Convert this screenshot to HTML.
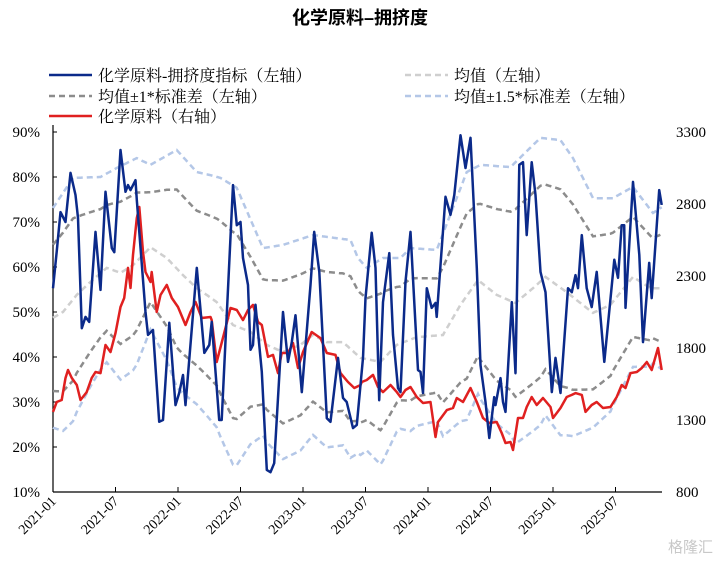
<!DOCTYPE html>
<html><head><meta charset="utf-8"><style>
body{margin:0;background:#fff;width:721px;height:561px;overflow:hidden}
svg text{font-family:"Liberation Serif","Noto Serif CJK SC",serif}
</style></head><body>
<svg id="chart" width="721" height="561" xmlns="http://www.w3.org/2000/svg">
<text x="360" y="24" text-anchor="middle" font-size="18" font-weight="bold" fill="#000" style="font-family:'Liberation Sans','Noto Sans CJK SC',sans-serif">化学原料–拥挤度</text>
<g font-size="16" fill="#000">
<g><line x1="49" y1="75" x2="92" y2="75" stroke="#0b2a8a" stroke-width="2.5"/><text x="98" y="81">化学原料-拥挤度指标（左轴）</text></g>
<g><line x1="405" y1="75" x2="448" y2="75" stroke="#cfcfcf" stroke-width="2.5" stroke-dasharray="6,4"/><text x="454" y="81">均值（左轴）</text></g>
<g><line x1="49" y1="96" x2="92" y2="96" stroke="#8c8c8c" stroke-width="2.5" stroke-dasharray="6,4"/><text x="98" y="102">均值±1*标准差（左轴）</text></g>
<g><line x1="405" y1="96" x2="448" y2="96" stroke="#b4c7e7" stroke-width="2.5" stroke-dasharray="6,4"/><text x="454" y="102">均值±1.5*标准差（左轴）</text></g>
<g><line x1="49" y1="116" x2="92" y2="116" stroke="#e02020" stroke-width="2.5"/><text x="98" y="122">化学原料（右轴）</text></g>
</g>
<g id="axes"></g>
<g id="plot"></g>
<text x="668" y="552" font-size="15" fill="#c8c8c8" style="font-family:'Liberation Sans','Noto Sans CJK SC',sans-serif">格隆汇</text>
</svg>
<script>
const leftTicks=[90,80,70,60,50,40,30,20,10];
const rightTicks=[3300,2800,2300,1800,1300,800];
const xTickLabels=["2021-01","2021-07","2022-01","2022-07","2023-01","2023-07","2024-01","2024-07","2025-01","2025-07"];
const blueT=[2021.00,2021.03,2021.06,2021.10,2021.14,2021.18,2021.20,2021.23,2021.26,2021.29,2021.34,2021.38,2021.42,2021.47,2021.49,2021.54,2021.58,2021.60,2021.62,2021.66,2021.67,2021.74,2021.76,2021.80,2021.85,2021.88,2021.93,2021.98,2022.01,2022.04,2022.06,2022.15,2022.21,2022.25,2022.27,2022.33,2022.35,2022.44,2022.47,2022.50,2022.52,2022.56,2022.58,2022.60,2022.62,2022.64,2022.67,2022.71,2022.74,2022.77,2022.84,2022.88,2022.91,2022.94,2022.99,2023.06,2023.09,2023.13,2023.19,2023.22,2023.28,2023.32,2023.35,2023.40,2023.43,2023.48,2023.50,2023.55,2023.58,2023.61,2023.64,2023.69,2023.72,2023.76,2023.78,2023.82,2023.86,2023.90,2023.92,2023.94,2023.96,2023.99,2024.03,2024.06,2024.07,2024.14,2024.18,2024.21,2024.26,2024.30,2024.34,2024.39,2024.42,2024.46,2024.49,2024.53,2024.54,2024.58,2024.60,2024.62,2024.67,2024.70,2024.73,2024.76,2024.79,2024.83,2024.86,2024.90,2024.94,2024.99,2025.02,2025.06,2025.12,2025.15,2025.18,2025.20,2025.23,2025.27,2025.31,2025.35,2025.41,2025.49,2025.52,2025.55,2025.57,2025.58,2025.64,2025.69,2025.72,2025.77,2025.79,2025.85,2025.87];
const blueV=[55.3,63.4,72.2,70,80.9,76,70.9,46.4,48.9,47.8,67.8,54.9,76.7,64.2,63.3,86,76.7,78.2,77.1,79.3,74.9,50,44.9,46,25.6,26,47.6,29.3,32,36,29.3,59.8,40.9,42.7,47.8,26,26,78.2,69.3,70,62,56,41.6,42.7,51.6,45.6,36.7,14.9,14.4,16.4,50,38.9,43.3,49.3,32.2,56,67.8,58.9,26.4,25.6,39.8,30.9,30,24.2,24.9,39.8,53.1,67.6,59.8,30.4,52.2,63.1,44.9,33.1,32.2,56.7,67.8,47.1,37.1,36.7,32,55.3,50.9,52,48.9,75.6,71.6,76,89.3,82,88.7,59.8,38.2,30,22,31.1,29.3,35.3,30,27.8,52.2,36.4,82.7,83.3,67.1,83.3,76,58.9,54.4,32.2,39.8,32,55.3,54.4,58.2,55.3,67.1,55.3,51.1,58.9,38.9,61.6,57.6,69.3,69.3,50.9,78.9,62.7,43.3,60.9,53.1,77.1,73.8];
const redT=[2021.00,2021.03,2021.07,2021.10,2021.12,2021.15,2021.19,2021.22,2021.27,2021.31,2021.34,2021.38,2021.42,2021.46,2021.50,2021.54,2021.57,2021.60,2021.62,2021.64,2021.67,2021.69,2021.72,2021.74,2021.78,2021.79,2021.83,2021.86,2021.91,2021.95,2022.00,2022.06,2022.10,2022.14,2022.19,2022.26,2022.27,2022.31,2022.38,2022.42,2022.47,2022.52,2022.56,2022.60,2022.64,2022.67,2022.72,2022.76,2022.80,2022.83,2022.88,2022.92,2022.96,2023.00,2023.07,2023.14,2023.19,2023.26,2023.30,2023.36,2023.41,2023.46,2023.47,2023.51,2023.56,2023.60,2023.64,2023.70,2023.75,2023.78,2023.82,2023.86,2023.91,2023.96,2024.02,2024.06,2024.08,2024.15,2024.20,2024.23,2024.28,2024.34,2024.39,2024.44,2024.49,2024.55,2024.59,2024.62,2024.66,2024.68,2024.72,2024.76,2024.79,2024.83,2024.87,2024.92,2024.98,2025.00,2025.06,2025.11,2025.15,2025.18,2025.23,2025.26,2025.31,2025.35,2025.40,2025.46,2025.51,2025.55,2025.58,2025.62,2025.67,2025.71,2025.75,2025.79,2025.84,2025.87];
const redV=[1356,1425,1439,1592,1647,1592,1543,1439,1494,1592,1633,1626,1821,1772,1904,2085,2147,2356,2217,2446,2703,2779,2467,2328,2258,2328,2050,2168,2238,2147,2085,1960,2050,2120,2008,2015,1994,1703,1939,2078,2064,1994,2064,2099,1981,1960,1738,1752,1626,1765,1765,1835,1661,1772,1911,1869,1765,1752,1626,1564,1522,1543,1564,1578,1613,1529,1494,1543,1494,1460,1508,1529,1460,1418,1425,1182,1286,1369,1383,1453,1425,1522,1425,1314,1279,1286,1210,1140,1147,1092,1314,1314,1390,1460,1404,1453,1390,1314,1383,1460,1474,1487,1474,1356,1404,1425,1383,1390,1460,1543,1522,1626,1633,1661,1703,1647,1800,1647];
const meanT=[2021.00,2021.08,2021.19,2021.30,2021.43,2021.54,2021.64,2021.78,2021.91,2022.04,2022.15,2022.23,2022.31,2022.44,2022.58,2022.71,2022.84,2022.98,2023.08,2023.19,2023.32,2023.46,2023.62,2023.75,2023.91,2024.12,2024.26,2024.40,2024.55,2024.70,2024.84,2024.94,2025.11,2025.32,2025.46,2025.64,2025.78,2025.87];
const meanV=[48.7,50,53.8,56.7,59.8,58.7,60.4,64.4,62,58.2,55.3,53.8,52.2,47.1,45.6,42.7,41.1,42.7,44.9,43.3,43.3,39.8,38.9,42.7,44.4,44.9,51.6,57.1,53.8,52,55.3,57.8,54.4,49.8,51.6,57.8,55.3,55.3];
const upperT=[2021.00,2021.16,2021.38,2021.51,2021.67,2021.78,2021.99,2022.15,2022.26,2022.34,2022.47,2022.68,2022.84,2023.08,2023.38,2023.44,2023.51,2023.64,2023.78,2023.86,2024.07,2024.31,2024.42,2024.66,2024.90,2025.06,2025.16,2025.32,2025.48,2025.64,2025.80,2025.87];
const upperV=[73.1,79.8,80,82,84.2,82.7,86,81.1,80.4,79.8,77.6,64.2,64.9,67.1,66,62,59.8,62,62,64.2,63.8,81.1,82.7,82.2,88.7,88.2,84.2,75.3,75.3,77.8,72,73.3];

const X0=53,X1=662,Y0=132,Y1=492;
const xs=t=>X0+(t-2021)*125;
const yl=v=>Y0+(90-v)*(Y1-Y0)/80;
const yr=v=>Y0+(3300-v)*(Y1-Y0)/2500;
const NS="http://www.w3.org/2000/svg";
const axes=document.getElementById('axes'),plot=document.getElementById('plot');
function mk(tag,attrs,parent){const e=document.createElementNS(NS,tag);for(const k in attrs)e.setAttribute(k,attrs[k]);parent.appendChild(e);return e;}
function interp(T,V,t){if(t<=T[0])return V[0];for(let i=1;i<T.length;i++){if(t<=T[i]){const f=(t-T[i-1])/(T[i]-T[i-1]);return V[i-1]+f*(V[i]-V[i-1]);}}return V[V.length-1];}

let al=mk('line',{x1:X0,y1:125,x2:X0,y2:Y1,stroke:'#000','stroke-width':1.2},axes);

let ab=mk('line',{x1:X0,y1:Y1,x2:X1,y2:Y1,stroke:'#000','stroke-width':1.2},axes);

leftTicks.forEach(v=>{
 mk('line',{x1:X0,y1:yl(v),x2:X0+4,y2:yl(v),stroke:'#000'},axes);
 const t=mk('text',{x:40,y:yl(v)+5,'text-anchor':'end','font-size':15},axes);t.textContent=v+'%';
 
 
});
rightTicks.forEach(v=>{
 const t=mk('text',{x:676,y:yr(v)+5,'font-size':15},axes);t.textContent=v;
 
 
});
xTickLabels.forEach((s,i)=>{
 const t0=2021+i*0.5,x=xs(t0);
 if(i>0)mk('line',{x1:x,y1:Y1,x2:x,y2:Y1-5,stroke:'#000'},axes);
 const t=mk('text',{x:x+4,y:Y1+10,'text-anchor':'end','font-size':14,transform:`rotate(-45 ${x+4} ${Y1+10})`},axes);t.textContent=s;
 
 
});
function band(fn,color,name){
 let d='';for(let t=2021;t<=2025.8701;t+=0.01){d+=(d?'L':'M')+xs(t).toFixed(1)+','+yl(fn(t)).toFixed(1);}
 const p=mk('path',{d,fill:'none',stroke:color,'stroke-width':2.5,'stroke-dasharray':'6,4'},plot);
 
 
}
const mean=t=>interp(meanT,meanV,t);
const sd=t=>(interp(upperT,upperV,t)-mean(t))/1.5;
band(t=>mean(t)+1.5*sd(t),'#b4c7e7','upper-1.5sd-band');
band(t=>mean(t)-1.5*sd(t),'#b4c7e7','lower-1.5sd-band');
band(t=>mean(t)+sd(t),'#8c8c8c','upper-1sd-band');
band(t=>mean(t)-sd(t),'#8c8c8c','lower-1sd-band');
band(mean,'#cfcfcf','mean-line');
function line(T,V,yf,color,name){
 const d=T.map((t,i)=>(i?'L':'M')+xs(t).toFixed(1)+','+yf(V[i]).toFixed(1)).join('');
 const p=mk('path',{d,fill:'none',stroke:color,'stroke-width':2.5,'stroke-linejoin':'round'},plot);
 
 
}
line(redT,redV,yr,'#e02020','price-line');
line(blueT,blueV,yl,'#0b2a8a','crowding-line');
</script>
</body></html>
